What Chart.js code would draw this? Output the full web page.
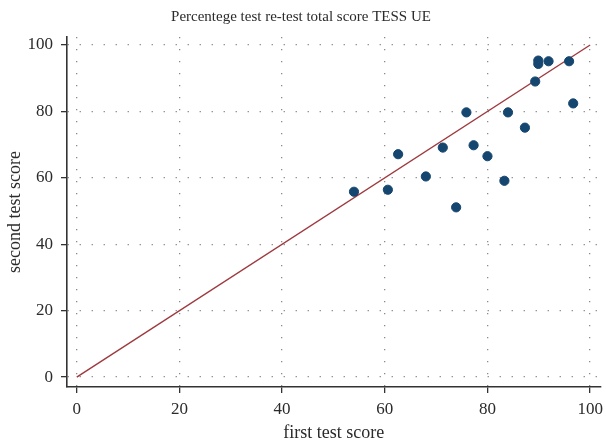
<!DOCTYPE html>
<html>
<head>
<meta charset="utf-8">
<script src="https://cdn.jsdelivr.net/npm/chart.js@4"></script>
<style>
  html, body { margin: 0; padding: 0; background: #fff; }
  #wrap { width: 606px; height: 445px; }
</style>
</head>
<body>
<div id="wrap"><canvas id="scoreChart"></canvas></div>
<script>
// first test score vs second test score
const firstScore  = [54.0, 60.6, 62.6, 68.0, 71.3, 73.9, 75.9, 77.3, 80.0, 83.3, 84.0, 87.3, 89.3, 89.9, 89.9, 91.9, 95.9, 96.7];
const secondScore = [55.8, 56.4, 67.1, 60.4, 69.1, 51.1, 79.7, 69.8, 66.5, 59.1, 79.7, 75.1, 89.0, 95.3, 94.3, 95.1, 95.1, 82.4];
const refLine = [0, 100];
const tickValues = [0, 20, 40, 60, 80, 100];

const serif = '"Liberation Serif", "DejaVu Serif", serif';
const textColor = '#2b2b2b';

const points = firstScore.map((x, i) => ({ x: x, y: secondScore[i] }));
const line = refLine.map(v => ({ x: v, y: v }));

const setTicks = scale => { scale.ticks = tickValues.map(v => ({ value: v })); };

const ctx = document.getElementById('scoreChart').getContext('2d');

const scoreChart = new Chart(ctx, {
    type: 'scatter',
    data: {
        datasets: [{
            label: 'scores',
            data: points,
            backgroundColor: '#14466f',
            borderColor: '#14466f',
            pointRadius: 4.6,
            pointHoverRadius: 4.6,
            order: 1
        }, {
            type: 'line',
            label: 'equality',
            data: line,
            borderColor: '#9e3a3f',
            borderWidth: 1.4,
            pointRadius: 0,
            fill: false,
            order: 2
        }]
    },
    options: {
        responsive: true,
        maintainAspectRatio: false,
        animation: false,
        layout: { padding: { left: 0, right: 4, top: 0, bottom: 0 } },
        plugins: {
            legend: { display: false },
            tooltip: { enabled: false },
            title: {
                display: true,
                text: 'Percentege test re-test total score TESS UE',
                color: textColor,
                font: { family: serif, size: 15, weight: 'normal' },
                padding: { top: 8, bottom: 11 }
            }
        },
        scales: {
            x: {
                type: 'linear',
                min: -1.9,
                max: 102,
                afterBuildTicks: setTicks,
                afterFit: s => { s.height = 58; s.paddingLeft = 0; s.paddingRight = 0; },
                grid: {
                    color: '#8a8a8a',
                    lineWidth: 1.3,
                    tickLength: 6,
                    tickColor: '#333',
                    tickWidth: 1.3,
                    tickBorderDash: []
                },
                border: { display: true, color: '#333', width: 1.6, dash: [1.3, 10.7] },
                ticks: {
                    color: textColor,
                    padding: 6,
                    font: { family: serif, size: 17 }
                },
                title: {
                    display: true,
                    text: 'first test score',
                    color: textColor,
                    font: { family: serif, size: 18 },
                    padding: { top: 2, bottom: 1 }
                }
            },
            y: {
                type: 'linear',
                min: -3,
                max: 102.4,
                afterBuildTicks: setTicks,
                afterFit: s => { s.width = 67; s.paddingTop = 0; s.paddingBottom = 0; },
                grid: {
                    color: '#8a8a8a',
                    lineWidth: 1.3,
                    tickLength: 6,
                    tickColor: '#333',
                    tickWidth: 1.3,
                    tickBorderDash: []
                },
                border: { display: true, color: '#333', width: 1.6, dash: [1.3, 10.7] },
                ticks: {
                    color: textColor,
                    padding: 8,
                    font: { family: serif, size: 17 }
                },
                title: {
                    display: true,
                    text: 'second test score',
                    color: textColor,
                    font: { family: serif, size: 18 },
                    padding: { top: 4, bottom: 4 }
                }
            }
        }
    }
});
</script>
</body>
</html>
